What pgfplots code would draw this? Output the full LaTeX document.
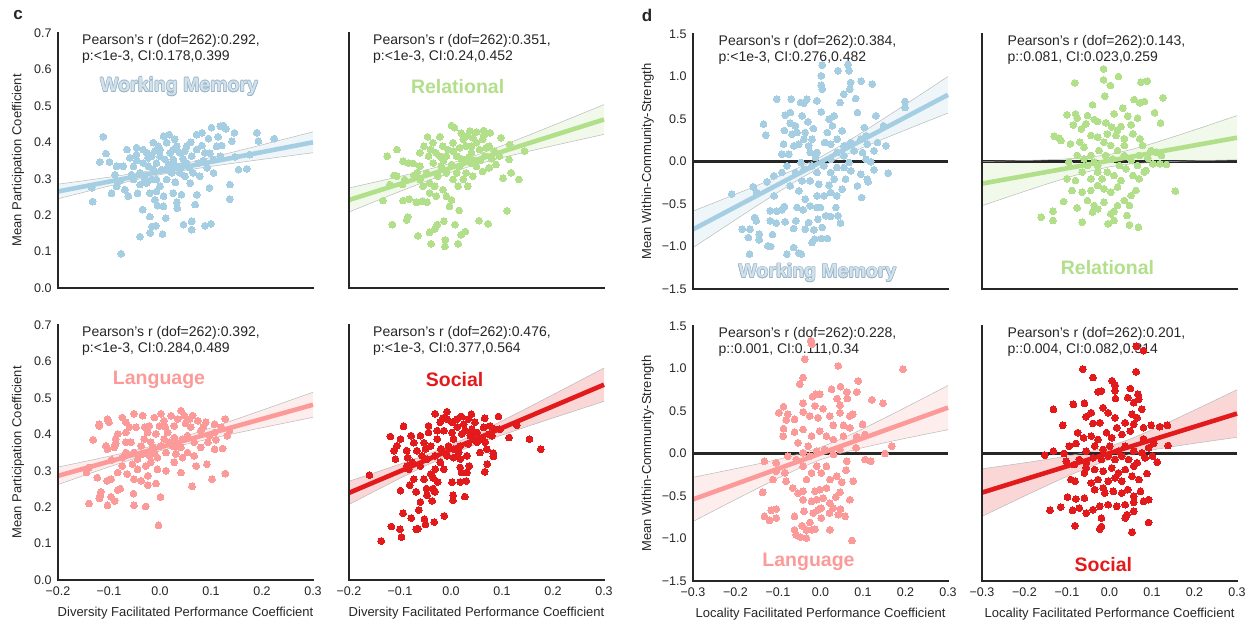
\documentclass[border=0pt]{standalone}
\usepackage{fontspec}
\setmainfont{Liberation Sans}
\usepackage{pgfplots}
\usepackage{pgfplotstable}
\pgfplotsset{compat=1.18}
\usepgfplotslibrary{fillbetween}
\definecolor{wm}{HTML}{A6CEE3}
\definecolor{wmf}{HTML}{CFE2EE}
\definecolor{wmo}{HTML}{9DB4C4}
\definecolor{rel}{HTML}{B2DF8A}
\definecolor{lang}{HTML}{FB9A99}
\definecolor{soc}{HTML}{E31A1C}
\definecolor{txt}{HTML}{262626}

\pgfplotstableread{
x y
-0.076 0.094
-0.132 0.237
-0.134 0.275
-0.111 0.415
-0.118 0.346
-0.106 0.369
-0.099 0.346
-0.085 0.334
-0.095 0.26
-0.088 0.311
-0.069 0.27
-0.062 0.252
-0.065 0.38
-0.046 0.385
-0.044 0.26
-0.034 0.215
-0.039 0.141
-0.020 0.196
-0.019 0.151
-0.016 0.169
-0.008 0.171
0.005 0.148
0.011 0.192
-0.005 0.226
0.007 0.252
0.007 0.417
0.018 0.421
0.026 0.26
0.033 0.235
0.034 0.219
0.042 0.256
0.046 0.174
0.062 0.183
0.062 0.16
0.069 0.229
0.072 0.256
0.088 0.171
0.1 0.176
0.097 0.275
0.072 0.421
0.082 0.426
0.101 0.44
0.114 0.415
0.118 0.444
0.124 0.446
0.129 0.437
0.121 0.391
0.141 0.403
0.146 0.426
0.137 0.284
0.137 0.244
0.154 0.325
0.17 0.327
0.176 0.366
0.19 0.426
0.193 0.403
0.224 0.41
0.147 0.36
0.118 0.362
0.105 0.353
0.088 0.371
0.082 0.391
0.092 0.33
0.078 0.307
0.065 0.316
0.059 0.288
0.049 0.307
0.052 0.343
0.039 0.371
0.029 0.408
0.026 0.353
0.016 0.334
0.013 0.298
0.0 0.279
-0.007 0.298
-0.013 0.325
-0.016 0.362
-0.013 0.399
-0.003 0.389
0.0 0.362
-0.026 0.371
-0.033 0.343
-0.039 0.316
-0.052 0.334
-0.052 0.298
-0.039 0.284
-0.026 0.288
-0.02 0.26
-0.01 0.242
0.007 0.224
0.013 0.325
0.02 0.371
0.033 0.389
0.042 0.334
0.052 0.389
0.062 0.362
0.072 0.38
0.075 0.343
0.105 0.316
0.111 0.389
-0.059 0.357
-0.072 0.334
-0.056 0.311
-0.046 0.366
-0.033 0.38
-0.023 0.357
-0.007 0.343
0.003 0.325
0.01 0.353
0.023 0.316
0.033 0.334
0.039 0.316
0.049 0.376
0.026 0.38
0.0 0.38
-0.01 0.376
0.013 0.399
-0.007 0.265
-0.016 0.298
-0.023 0.334
-0.078 0.294
-0.085 0.279
0.045 0.355
0.058 0.33
0.085 0.35
0.098 0.37
0.03 0.29
-0.045 0.35
-0.03 0.3
0.02 0.34
0.06 0.4
0.095 0.41
}\tA

\pgfplotstableread{
x y
-0.125 0.362
-0.106 0.38
-0.133 0.24
-0.115 0.174
-0.094 0.24
-0.082 0.244
-0.087 0.187
-0.085 0.195
-0.068 0.235
-0.056 0.238
-0.047 0.235
-0.065 0.143
-0.042 0.153
-0.039 0.121
-0.032 0.162
-0.027 0.174
-0.014 0.183
-0.011 0.132
-0.012 0.114
0.008 0.174
0.014 0.121
0.02 0.146
0.028 0.155
0.016 0.213
0.055 0.185
0.073 0.176
0.11 0.212
0.133 0.298
0.102 0.301
0.118 0.316
0.114 0.353
0.144 0.376
0.115 0.394
0.098 0.412
0.077 0.426
0.064 0.432
0.05 0.428
0.037 0.431
0.03 0.417
0.007 0.44
0.001 0.446
-0.022 0.415
-0.046 0.415
-0.053 0.389
-0.061 0.371
-0.074 0.342
-0.084 0.343
-0.094 0.348
-0.112 0.309
-0.106 0.307
-0.091 0.298
-0.073 0.309
-0.061 0.298
-0.055 0.279
-0.042 0.288
-0.048 0.316
-0.035 0.343
-0.029 0.371
-0.035 0.399
-0.016 0.389
-0.009 0.362
-0.019 0.334
-0.026 0.307
-0.032 0.279
-0.042 0.261
-0.016 0.27
-0.009 0.252
0.001 0.242
-0.003 0.224
0.004 0.298
0.011 0.316
0.001 0.339
0.011 0.362
0.017 0.385
0.03 0.389
0.04 0.371
0.05 0.399
0.056 0.38
0.066 0.362
0.075 0.389
0.085 0.376
0.095 0.362
0.088 0.339
0.075 0.33
0.062 0.32
0.05 0.334
0.04 0.343
0.027 0.353
0.017 0.334
0.03 0.316
0.043 0.307
0.024 0.298
0.014 0.279
0.033 0.279
-0.022 0.362
-0.061 0.334
-0.095 0.284
-0.12 0.284
0.004 0.399
0.024 0.408
0.043 0.412
0.062 0.408
0.069 0.385
0.04 0.389
-0.006 0.38
-0.044 0.362
-0.067 0.316
-0.009 0.316
-0.029 0.252
0.02 0.355
0.035 0.36
0.058 0.35
0.08 0.355
0.005 0.375
-0.04 0.38
0.065 0.42
0.02 0.425
0.045 0.35
-0.015 0.35
}\tB

\pgfplotstableread{
x y
-0.003 0.15
0.001 0.228
-0.028 0.202
-0.051 0.205
-0.103 0.205
-0.139 0.21
-0.119 0.224
-0.117 0.231
-0.116 0.242
-0.096 0.228
-0.089 0.217
-0.083 0.247
-0.078 0.251
-0.052 0.237
-0.024 0.26
-0.008 0.265
0.063 0.257
0.102 0.277
0.128 0.292
0.092 0.318
0.071 0.313
0.041 0.295
0.012 0.3
0.028 0.323
-0.005 0.304
-0.024 0.286
-0.037 0.272
-0.044 0.304
-0.051 0.277
-0.064 0.291
-0.074 0.313
-0.083 0.295
-0.096 0.277
-0.104 0.272
-0.123 0.281
-0.144 0.295
-0.139 0.309
-0.103 0.359
-0.106 0.368
-0.09 0.364
-0.131 0.385
-0.119 0.423
-0.103 0.442
-0.1 0.433
-0.119 0.428
-0.087 0.387
-0.083 0.401
-0.074 0.446
-0.067 0.433
-0.051 0.456
-0.034 0.451
-0.047 0.419
-0.067 0.405
-0.057 0.378
-0.067 0.35
-0.074 0.336
-0.051 0.35
-0.044 0.332
-0.037 0.368
-0.031 0.387
-0.024 0.405
-0.021 0.423
-0.011 0.446
0.002 0.456
0.008 0.437
-0.001 0.423
-0.008 0.401
-0.018 0.378
-0.011 0.35
0.002 0.368
-0.005 0.336
-0.018 0.323
-0.028 0.313
0.012 0.35
0.018 0.378
0.015 0.405
0.028 0.423
0.035 0.442
0.041 0.465
0.048 0.451
0.058 0.442
0.064 0.451
0.074 0.437
0.09 0.433
0.107 0.428
0.128 0.442
0.12 0.419
0.132 0.396
0.136 0.41
0.107 0.405
0.094 0.378
0.08 0.364
0.107 0.359
0.123 0.361
0.067 0.378
0.054 0.396
0.044 0.387
0.041 0.364
0.031 0.346
0.044 0.336
0.054 0.35
0.067 0.341
0.025 0.368
0.028 0.391
0.008 0.387
0.08 0.41
0.097 0.396
0.022 0.451
-0.014 0.364
-0.034 0.346
-0.054 0.318
-0.067 0.378
-0.087 0.374
-0.03 0.42
0.01 0.42
0.06 0.42
0.085 0.42
-0.06 0.42
-0.02 0.34
0.03 0.365
0.11 0.385
-0.095 0.33
0.05 0.43
}\tC

\pgfplotstableread{
x y
-0.16 0.288
-0.137 0.107
-0.117 0.147
-0.1 0.139
-0.097 0.118
-0.094 0.183
-0.099 0.245
-0.081 0.26
-0.078 0.17
-0.068 0.139
-0.065 0.141
-0.063 0.192
-0.068 0.242
-0.06 0.214
-0.052 0.167
-0.05 0.153
-0.047 0.233
-0.048 0.251
-0.035 0.251
-0.032 0.242
-0.037 0.217
-0.033 0.159
-0.013 0.176
-0.026 0.269
-0.053 0.277
-0.073 0.277
0.002 0.268
0.004 0.233
0.004 0.219
0.027 0.229
0.018 0.269
0.03 0.272
0.021 0.295
0.036 0.313
0.066 0.297
0.071 0.318
0.083 0.348
0.083 0.339
0.114 0.391
0.154 0.387
0.176 0.359
0.129 0.425
0.093 0.449
0.066 0.444
0.02 0.449
-0.008 0.462
-0.031 0.456
-0.044 0.423
-0.06 0.396
-0.078 0.396
-0.093 0.422
-0.119 0.394
-0.112 0.355
-0.106 0.368
-0.109 0.332
-0.087 0.355
-0.085 0.336
-0.067 0.355
-0.076 0.323
-0.083 0.304
-0.06 0.313
-0.047 0.332
-0.031 0.341
-0.04 0.368
-0.027 0.387
-0.014 0.41
-0.021 0.433
0.002 0.433
0.012 0.442
0.025 0.428
0.034 0.442
0.047 0.433
0.064 0.419
0.051 0.405
0.038 0.396
0.021 0.401
0.005 0.387
-0.005 0.368
0.005 0.359
0.018 0.368
0.034 0.373
0.051 0.378
0.067 0.378
0.08 0.396
0.086 0.414
0.077 0.423
0.031 0.341
0.018 0.332
0.005 0.336
-0.008 0.341
-0.021 0.323
-0.014 0.304
-0.031 0.304
-0.04 0.291
0.018 0.309
0.031 0.295
0.057 0.35
0.07 0.359
0.096 0.414
-0.053 0.377
-0.073 0.377
-0.099 0.387
-0.086 0.313
-0.008 0.442
0.041 0.414
-0.027 0.41
-0.044 0.405
-0.057 0.341
0.044 0.387
0.002 0.405
0.012 0.42
0.028 0.41
-0.02 0.36
0.015 0.35
0.06 0.39
-0.05 0.36
0.04 0.455
-0.015 0.445
0.075 0.4
-0.035 0.28
}\tD

\pgfplotstableread{
x y
-0.209 -0.384
-0.158 -0.298
-0.15 -0.365
-0.126 -0.239
-0.11 -0.169
-0.109 -0.404
-0.134 0.439
-0.129 0.31
-0.103 0.733
-0.083 0.545
-0.071 0.576
-0.069 0.733
-0.184 -0.796
-0.17 -0.894
-0.167 -1.09
-0.166 -0.796
-0.155 -0.659
-0.151 -0.698
-0.144 -0.855
-0.144 -0.922
-0.124 -0.992
-0.117 -1.0
-0.113 -0.859
-0.118 -0.58
-0.118 -0.698
-0.103 -0.584
-0.091 -0.569
-0.085 -0.529
-0.104 -0.725
-0.083 -0.71
-0.079 -1.09
-0.063 -1.012
-0.051 -1.078
-0.045 -1.09
-0.063 -0.788
-0.058 -0.698
-0.051 -0.345
-0.041 -0.569
-0.036 -0.796
-0.028 -0.718
-0.02 -0.953
-0.016 -0.804
-0.014 -0.914
-0.006 -0.678
-0.008 -0.541
0.002 -0.906
0.016 -0.906
0.004 -0.776
0.012 -0.639
0.024 -0.647
0.036 -0.541
0.041 -0.639
0.047 -0.725
0.02 -0.278
0.024 -0.365
0.008 -0.404
-0.004 -0.267
-0.024 -0.227
-0.043 -0.227
-0.046 -0.012
-0.039 -0.09
-0.059 -0.129
-0.079 -0.051
-0.091 -0.129
-0.091 0.086
-0.087 0.204
-0.067 0.322
-0.071 0.451
-0.059 0.42
-0.055 0.341
-0.063 0.184
-0.051 0.204
-0.039 0.263
-0.036 0.341
-0.043 0.537
-0.032 0.733
-0.047 0.694
-0.039 0.686
-0.028 0.184
-0.02 0.263
-0.024 0.106
-0.012 0.047
-0.008 0.106
-0.009 0.714
0.002 0.584
0.004 1.133
0.002 1.008
0.002 0.898
0.004 0.851
0.02 0.498
0.032 0.537
0.028 0.42
0.01 0.224
0.016 0.341
0.024 0.204
0.039 0.263
0.051 0.361
0.046 0.694
0.041 1.067
0.065 1.141
0.067 1.067
0.071 0.929
0.069 0.851
0.055 0.792
0.083 0.741
0.096 0.945
0.122 0.91
0.087 0.576
0.103 0.4
0.107 0.302
0.13 0.537
0.148 0.42
0.154 0.184
0.199 0.706
0.199 0.635
0.159 -0.137
0.126 -0.098
0.11 -0.208
0.112 -0.239
0.097 -0.424
0.087 -0.286
0.095 -0.149
0.071 -0.11
0.059 -0.208
0.051 -0.325
0.038 -0.404
0.067 -0.012
0.055 0.067
0.079 0.125
0.099 0.106
0.107 0.027
0.118 -0.004
0.126 0.125
0.134 0.224
0.11 0.204
0.095 0.263
0.071 0.224
0.055 0.184
0.039 0.106
0.024 0.027
0.008 -0.051
-0.008 -0.129
-0.02 -0.051
0.024 -0.129
0.039 -0.071
0.032 -0.208
0.055 -0.071
-0.036 -0.443
-0.024 -0.522
-0.008 -0.404
0.0 -0.541
-0.071 -0.286
-0.055 -0.541
-0.03 0.467
-0.017 0.388
-0.085 0.365
-0.075 0.086
}\tE

\pgfplotstableread{
x y
-0.014 1.09
-0.014 0.961
0.021 1.0
0.002 0.894
-0.011 0.769
-0.082 0.925
0.074 0.933
0.089 0.945
0.058 0.729
0.071 0.69
0.082 0.706
0.126 0.749
-0.04 0.667
0.031 0.627
-0.1 0.549
-0.08 0.561
-0.076 0.51
-0.052 0.541
-0.036 0.494
0.011 0.561
0.043 0.533
0.066 0.51
0.106 0.573
0.12 0.451
-0.085 0.431
-0.056 0.443
-0.028 0.471
-0.009 0.455
0.005 0.404
0.027 0.412
0.051 0.431
-0.13 0.298
-0.119 0.275
-0.114 0.247
-0.092 0.208
-0.066 0.384
-0.044 0.306
-0.07 0.227
-0.06 0.169
-0.028 0.286
-0.005 0.325
0.015 0.306
0.035 0.267
0.055 0.325
0.071 0.267
0.078 0.188
0.098 0.129
0.11 0.11
0.09 0.039
0.122 0.071
0.118 -0.027
0.134 -0.035
0.102 -0.027
0.086 -0.106
0.066 -0.047
0.051 0.012
0.035 0.071
0.019 0.129
0.003 0.188
-0.013 0.227
-0.025 0.129
-0.009 0.071
0.007 0.031
0.023 -0.047
0.039 -0.086
0.055 -0.165
0.07 -0.204
0.082 -0.125
0.155 -0.349
-0.044 0.071
-0.06 0.031
-0.076 0.071
-0.096 -0.008
-0.1 -0.204
-0.08 -0.224
-0.064 -0.125
-0.052 -0.047
-0.036 -0.008
-0.028 -0.125
-0.044 -0.204
-0.017 -0.204
-0.005 -0.125
0.011 -0.165
0.027 -0.224
0.019 -0.302
0.003 -0.361
-0.013 -0.322
-0.028 -0.282
-0.044 -0.341
-0.064 -0.361
-0.088 -0.341
-0.108 -0.471
-0.076 -0.545
-0.052 -0.459
-0.036 -0.518
-0.04 -0.596
-0.028 -0.557
-0.013 -0.478
0.003 -0.616
0.019 -0.518
0.035 -0.459
0.051 -0.4
0.047 -0.518
0.062 -0.341
0.041 -0.635
0.011 -0.588
-0.003 -0.733
0.011 -0.694
0.047 -0.745
0.068 -0.773
-0.064 -0.714
-0.133 -0.584
-0.133 -0.694
-0.161 -0.655
0.07 0.071
-0.028 -0.047
0.035 0.188
0.019 0.365
}\tF

\pgfplotstableread{
x y
-0.023 1.327
-0.02 1.287
-0.037 1.11
0.042 1.031
0.194 0.992
-0.041 0.894
-0.049 0.815
0.026 0.756
0.047 0.787
0.062 0.724
0.089 0.854
0.085 0.724
-0.019 0.669
-0.011 0.697
-0.002 0.697
0.039 0.646
0.063 0.646
0.121 0.63
0.147 0.591
-0.041 0.591
-0.013 0.559
0.006 0.528
0.046 0.567
-0.087 0.551
-0.098 0.48
-0.077 0.461
-0.081 0.394
-0.061 0.402
-0.041 0.488
-0.025 0.441
-0.006 0.421
0.022 0.441
0.046 0.48
0.069 0.441
0.076 0.461
0.03 0.331
0.054 0.331
0.099 0.343
0.069 0.303
-0.087 0.291
-0.088 0.205
-0.061 0.252
-0.041 0.283
-0.021 0.205
-0.002 0.264
0.014 0.205
0.03 0.165
0.054 0.205
0.085 0.197
0.105 0.224
0.084 0.067
0.168 0.087
0.152 0.0
0.105 -0.071
0.118 -0.091
0.077 -0.327
0.062 -0.091
0.06 -0.197
0.05 -0.339
0.046 -0.457
0.069 -0.543
0.036 -0.512
0.022 -0.583
0.03 -0.642
0.021 -0.701
0.042 -0.72
0.058 -0.74
0.047 -0.654
0.022 -0.898
0.074 -1.024
0.002 -0.76
-0.006 -0.661
-0.009 -0.543
-0.013 -0.445
-0.002 -0.425
0.006 -0.524
0.014 -0.406
0.022 -0.307
0.038 -0.268
0.014 -0.15
0.002 -0.228
-0.009 -0.15
-0.021 -0.228
-0.033 -0.307
-0.041 -0.445
-0.053 -0.465
-0.065 -0.406
-0.081 -0.327
-0.084 -0.228
-0.104 -0.209
-0.112 -0.307
-0.132 -0.091
-0.104 -0.11
-0.077 -0.031
-0.057 -0.071
-0.041 0.008
-0.025 -0.031
-0.009 0.028
0.01 0.047
0.03 -0.012
0.046 0.047
-0.041 -0.15
-0.029 0.087
-0.053 0.126
-0.136 -0.457
-0.132 -0.74
-0.12 -0.787
-0.116 -0.669
-0.104 -0.654
-0.104 -0.76
-0.061 -0.74
-0.039 -0.681
-0.061 -0.898
-0.057 -0.957
-0.047 -0.984
-0.033 -0.996
-0.043 -0.85
-0.025 -0.811
-0.033 -0.898
-0.021 -0.898
-0.013 -0.89
-0.017 -0.701
-0.021 -0.563
-0.041 -0.543
0.002 -0.642
}\tG

\pgfplotstableread{
x y
0.063 1.26
0.08 1.209
-0.063 0.992
0.063 0.961
-0.039 0.894
0.006 0.854
0.013 0.803
-0.027 0.724
-0.019 0.736
0.013 0.736
0.049 0.764
0.043 0.657
0.067 0.697
0.069 0.638
0.014 0.646
-0.132 0.52
-0.085 0.579
-0.059 0.591
-0.015 0.539
0.057 0.598
0.076 0.52
-0.043 0.48
-0.055 0.433
-0.003 0.48
0.013 0.421
0.053 0.461
0.065 0.421
-0.11 0.331
-0.039 0.354
-0.023 0.362
0.017 0.303
0.037 0.362
0.057 0.343
0.08 0.303
0.098 0.331
0.118 0.315
0.136 0.331
-0.075 0.244
-0.061 0.185
-0.043 0.205
-0.027 0.165
-0.007 0.244
0.005 0.185
0.029 0.224
0.049 0.264
0.08 0.173
0.104 0.118
0.138 0.094
-0.079 0.118
-0.095 0.087
-0.132 0.028
-0.152 -0.02
-0.107 0.0
-0.102 -0.091
-0.055 0.028
-0.035 0.087
-0.015 0.047
0.001 0.087
0.021 0.028
0.037 0.087
0.057 0.028
0.076 0.008
0.092 0.067
0.101 -0.031
0.112 -0.102
0.084 -0.051
0.065 -0.11
0.045 -0.071
0.029 -0.031
0.013 -0.071
-0.003 -0.031
-0.019 -0.071
-0.039 -0.051
-0.055 -0.11
-0.071 -0.071
-0.083 -0.13
-0.091 -0.307
-0.081 -0.327
-0.059 -0.228
-0.055 -0.169
-0.035 -0.189
-0.015 -0.209
0.005 -0.169
0.021 -0.228
0.037 -0.189
0.057 -0.15
0.053 -0.268
0.069 -0.307
0.088 -0.236
0.029 -0.327
0.013 -0.287
-0.003 -0.327
-0.027 -0.307
-0.043 -0.346
-0.035 -0.425
-0.015 -0.406
-0.011 -0.465
0.009 -0.445
0.029 -0.465
0.043 -0.425
0.057 -0.504
0.073 -0.445
0.08 -0.563
0.092 -0.543
0.057 -0.575
0.037 -0.602
0.017 -0.622
-0.003 -0.602
-0.023 -0.622
-0.039 -0.661
-0.055 -0.701
-0.071 -0.642
-0.087 -0.669
-0.099 -0.512
-0.079 -0.535
-0.059 -0.524
-0.115 -0.63
-0.14 -0.669
-0.081 -0.85
-0.019 -0.76
-0.023 -0.89
-0.019 -0.858
0.037 -0.76
0.057 -0.681
0.092 -0.811
0.053 -0.925
0.041 -0.72
}\tH

\tikzset{
  anno/.style={anchor=north west, align=left, inner sep=0pt, text=txt, font=\fontsize{14}{15.5}\selectfont},
  catlab/.style={anchor=center, inner sep=0pt, font=\bfseries\fontsize{19.5}{20}\selectfont},
  alab/.style={anchor=center, inner sep=0pt, text=txt, font=\fontsize{13}{14}\selectfont},
}
\pgfplotsset{
  panel/.style={
    scale only axis, width=255pt, height=255pt,
    axis lines*=left,
    axis line style={line width=2.6pt, color=txt, line cap=rect},
    major tick length=0pt, enlargelimits=false, clip=false, axis on top,
    tick label style={font=\fontsize{12.5}{13}\selectfont, text=txt},
    yticklabel style={xshift=-3pt}, xticklabel style={yshift=-3pt},
  },
  cpanel/.style={panel, xmin=-0.2, xmax=0.3, ymin=0, ymax=0.7,
    xtick={-0.2,-0.1,0,0.1,0.2,0.3}, xticklabels={−0.2,−0.1,0.0,0.1,0.2,0.3},
    ytick={0,0.1,0.2,0.3,0.4,0.5,0.6,0.7}, yticklabels={0.0,0.1,0.2,0.3,0.4,0.5,0.6,0.7}},
  dpanel/.style={panel, xmin=-0.3, xmax=0.3, ymin=-1.5, ymax=1.5,
    xtick={-0.3,-0.2,-0.1,0,0.1,0.2,0.3}, xticklabels={−0.3,−0.2,−0.1,0.0,0.1,0.2,0.3},
    ytick={-1.5,-1,-0.5,0,0.5,1,1.5}, yticklabels={−1.5,−1.0,−0.5,0.0,0.5,1.0,1.5}},
  dots/.style={only marks, mark=*, mark size=3.4pt, color=#1, mark options={line width=0pt}},
  band/.style={draw=none, fill=#1, fill opacity=0.18},
  bedge/.style={gray!55, line width=0.5pt},
  reg/.style={#1, line width=4.6pt},
}
\newcommand{\wmlabel}[2]{%
  \node[catlab, text=wmo, xshift=0.6pt] at (rel axis cs:#1,#2) {Working Memory};
  \node[catlab, text=wmo, xshift=-0.6pt] at (rel axis cs:#1,#2) {Working Memory};
  \node[catlab, text=wmo, yshift=0.6pt] at (rel axis cs:#1,#2) {Working Memory};
  \node[catlab, text=wmo, yshift=-0.6pt] at (rel axis cs:#1,#2) {Working Memory};
  \node[catlab, text=wmo, xshift=0.45pt, yshift=0.45pt] at (rel axis cs:#1,#2) {Working Memory};
  \node[catlab, text=wmo, xshift=-0.45pt, yshift=0.45pt] at (rel axis cs:#1,#2) {Working Memory};
  \node[catlab, text=wmo, xshift=0.45pt, yshift=-0.45pt] at (rel axis cs:#1,#2) {Working Memory};
  \node[catlab, text=wmo, xshift=-0.45pt, yshift=-0.45pt] at (rel axis cs:#1,#2) {Working Memory};
  \node[catlab, text=wmf] at (rel axis cs:#1,#2) {Working Memory};
}

\begin{document}
\begin{tikzpicture}
\node[text=txt, font=\bfseries\fontsize{17}{17}\selectfont] at (18pt,606pt) {c};
\node[text=txt, font=\bfseries\fontsize{17}{17}\selectfont] at (647pt,606pt) {d};

% ---------- c: Working Memory
\begin{axis}[cpanel, at={(58pt,333pt)}, xtick=\empty]
\addplot[dots=wm] table {\tA};
\addplot[name path=u1, bedge] coordinates {(-0.2,0.285) (-0.15,0.2944) (-0.1,0.3042) (-0.05,0.3147) (0,0.327) (0.05,0.3417) (0.1,0.3582) (0.15,0.3754) (0.2,0.393) (0.25,0.4108) (0.3,0.4286)};
\addplot[name path=l1, bedge] coordinates {(-0.2,0.245) (-0.15,0.2626) (-0.1,0.2798) (-0.05,0.2963) (0,0.311) (0.05,0.3233) (0.1,0.3338) (0.15,0.3436) (0.2,0.353) (0.25,0.3622) (0.3,0.3714)};
\addplot[band=wm] fill between[of=u1 and l1];
\addplot[reg=wm] coordinates {(-0.2,0.265) (0.3,0.40)};
\node[anno] at (rel axis cs:0.094,0.995) {Pearson's r (dof=262):0.292,\\p:<1e-3, CI:0.178,0.399};
\wmlabel{0.475}{0.79}
\node[alab, rotate=90] at (rel axis cs:-0.157,0.5) {Mean Participation Coefficient};
\end{axis}

% ---------- c: Relational
\begin{axis}[cpanel, at={(349pt,333pt)}, xtick=\empty, ytick=\empty]
\addplot[dots=rel] table {\tB};
\addplot[name path=u2, bedge] coordinates {(-0.2,0.2746) (-0.15,0.2903) (-0.1,0.3064) (-0.05,0.3234) (0,0.3423) (0.05,0.3648) (0.1,0.3906) (0.15,0.4181) (0.2,0.4463) (0.25,0.4748) (0.3,0.5035)};
\addplot[name path=l2, bedge] coordinates {(-0.2,0.2086) (-0.15,0.2371) (-0.1,0.2652) (-0.05,0.2924) (0,0.3177) (0.05,0.3394) (0.1,0.3578) (0.15,0.3745) (0.2,0.3905) (0.25,0.4062) (0.3,0.4217)};
\addplot[band=rel] fill between[of=u2 and l2];
\addplot[reg=rel] coordinates {(-0.2,0.2416) (0.3,0.4626)};
\node[anno] at (rel axis cs:0.094,0.995) {Pearson's r (dof=262):0.351,\\p:<1e-3, CI:0.24,0.452};
\node[catlab, text=rel] at (rel axis cs:0.426,0.79) {Relational};
\end{axis}

% ---------- c: Language
\begin{axis}[cpanel, at={(58pt,41pt)}]
\addplot[dots=lang] table {\tC};
\addplot[name path=u3, bedge] coordinates {(-0.2,0.31) (-0.15,0.3246) (-0.1,0.3396) (-0.05,0.3555) (0,0.3736) (0.05,0.3945) (0.1,0.4176) (0.15,0.4416) (0.2,0.466) (0.25,0.4907) (0.3,0.5153)};
\addplot[name path=l3, bedge] coordinates {(-0.2,0.262) (-0.15,0.2864) (-0.1,0.3104) (-0.05,0.3335) (0,0.3544) (0.05,0.3725) (0.1,0.3884) (0.15,0.4034) (0.2,0.418) (0.25,0.4323) (0.3,0.4467)};
\addplot[band=lang] fill between[of=u3 and l3];
\addplot[reg=lang] coordinates {(-0.2,0.286) (0.3,0.481)};
\node[anno] at (rel axis cs:0.094,0.995) {Pearson's r (dof=262):0.392,\\p:<1e-3, CI:0.284,0.489};
\node[catlab, text=lang] at (rel axis cs:0.396,0.784) {Language};
\node[alab, rotate=90] at (rel axis cs:-0.157,0.5) {Mean Participation Coefficient};
\node[alab] at (rel axis cs:0.5,-0.129) {Diversity Facilitated Performance Coefficient};
\end{axis}

% ---------- c: Social
\begin{axis}[cpanel, at={(349pt,41pt)}, ytick=\empty]
\addplot[dots=soc] table {\tD};
\addplot[name path=u4, bedge] coordinates {(-0.2,0.2712) (-0.15,0.2943) (-0.1,0.3181) (-0.05,0.343) (0,0.3708) (0.05,0.4024) (0.1,0.4369) (0.15,0.4725) (0.2,0.5088) (0.25,0.5454) (0.3,0.582)};
\addplot[name path=l4, bedge] coordinates {(-0.2,0.2072) (-0.15,0.2435) (-0.1,0.2791) (-0.05,0.3136) (0,0.3452) (0.05,0.373) (0.1,0.3979) (0.15,0.4217) (0.2,0.4448) (0.25,0.4676) (0.3,0.4904)};
\addplot[band=soc] fill between[of=u4 and l4];
\addplot[reg=soc] coordinates {(-0.2,0.2392) (0.3,0.5362)};
\node[anno] at (rel axis cs:0.094,0.995) {Pearson's r (dof=262):0.476,\\p:<1e-3, CI:0.377,0.564};
\node[catlab, text=soc] at (rel axis cs:0.414,0.788) {Social};
\node[alab] at (rel axis cs:0.5,-0.129) {Diversity Facilitated Performance Coefficient};
\end{axis}

% ---------- d: Working Memory
\begin{axis}[dpanel, at={(693pt,332pt)}, xtick=\empty]
\addplot[txt, line width=2.6pt] coordinates {(-0.3,0) (0.3,0)};
\addplot[dots=wm] table {\tE};
\addplot[name path=u5, bedge] coordinates {(-0.3,-0.584) (-0.25,-0.485) (-0.2,-0.385) (-0.15,-0.284) (-0.1,-0.180) (-0.05,-0.070) (0,0.053) (0.05,0.194) (0.1,0.348) (0.15,0.508) (0.2,0.671) (0.25,0.835) (0.3,1.0)};
\addplot[name path=l5, bedge] coordinates {(-0.3,-1.014) (-0.25,-0.849) (-0.2,-0.685) (-0.15,-0.522) (-0.1,-0.362) (-0.05,-0.208) (0,-0.067) (0.05,0.056) (0.1,0.166) (0.15,0.270) (0.2,0.371) (0.25,0.471) (0.3,0.570)};
\addplot[band=wm] fill between[of=u5 and l5];
\addplot[reg=wm] coordinates {(-0.3,-0.799) (0.3,0.785)};
\node[anno] at (rel axis cs:0.1,0.995) {Pearson's r (dof=262):0.384,\\p:<1e-3, CI:0.276,0.482};
\wmlabel{0.488}{0.063}
\node[alab, rotate=90] at (rel axis cs:-0.177,0.5) {Mean Within-Community-Strength};
\end{axis}

% ---------- d: Relational
\begin{axis}[dpanel, at={(982pt,332pt)}, xtick=\empty, ytick=\empty]
\addplot[txt, line width=2.6pt] coordinates {(-0.3,0) (0.3,0)};
\addplot[dots=rel] table {\tF};
\addplot[name path=u6, bedge] coordinates {(-0.3,0.0) (-0.25,0.0052) (-0.2,0.0115) (-0.15,0.0193) (-0.1,0.0305) (-0.05,0.0487) (0,0.0825) (0.05,0.1387) (0.1,0.2105) (0.15,0.2893) (0.2,0.3715) (0.25,0.4552) (0.3,0.54)};
\addplot[name path=l6, bedge] coordinates {(-0.3,-0.52) (-0.25,-0.4352) (-0.2,-0.3515) (-0.15,-0.2693) (-0.1,-0.1905) (-0.05,-0.1187) (0,-0.0625) (0.05,-0.0287) (0.1,-0.0105) (0.15,0.0007) (0.2,0.0085) (0.25,0.0148) (0.3,0.02)};
\addplot[band=rel] fill between[of=u6 and l6];
\addplot[reg=rel] coordinates {(-0.3,-0.26) (0.3,0.28)};
\node[anno] at (rel axis cs:0.1,0.995) {Pearson's r (dof=262):0.143,\\p::0.081, CI:0.023,0.259};
\node[catlab, text=rel] at (rel axis cs:0.492,0.086) {Relational};
\end{axis}

% ---------- d: Language
\begin{axis}[dpanel, at={(693pt,40pt)}]
\addplot[txt, line width=2.6pt] coordinates {(-0.3,0) (0.3,0)};
\addplot[dots=lang] table {\tG};
\addplot[name path=u7, bedge] coordinates {(-0.3,-0.28) (-0.25,-0.2298) (-0.2,-0.1785) (-0.15,-0.1257) (-0.1,-0.0695) (-0.05,-0.0063) (0,0.0725) (0.05,0.1737) (0.1,0.2905) (0.15,0.4143) (0.2,0.5415) (0.25,0.6702) (0.3,0.80)};
\addplot[name path=l7, bedge] coordinates {(-0.3,-0.80) (-0.25,-0.6702) (-0.2,-0.5415) (-0.15,-0.4143) (-0.1,-0.2905) (-0.05,-0.1737) (0,-0.0725) (0.05,0.0063) (0.1,0.0695) (0.15,0.1257) (0.2,0.1785) (0.25,0.2298) (0.3,0.28)};
\addplot[band=lang] fill between[of=u7 and l7];
\addplot[reg=lang] coordinates {(-0.3,-0.54) (0.3,0.54)};
\node[anno] at (rel axis cs:0.1,0.995) {Pearson's r (dof=262):0.228,\\p::0.001, CI:0.111,0.34};
\node[catlab, text=lang] at (rel axis cs:0.453,0.075) {Language};
\node[alab, rotate=90] at (rel axis cs:-0.177,0.5) {Mean Within-Community-Strength};
\node[alab] at (rel axis cs:0.5,-0.129) {Locality Facilitated Performance Coefficient};
\end{axis}

% ---------- d: Social
\begin{axis}[dpanel, at={(982pt,40pt)}, ytick=\empty]
\addplot[txt, line width=2.6pt] coordinates {(-0.3,0) (0.3,0)};
\addplot[dots=soc] table {\tH};
\addplot[name path=u8, bedge] coordinates {(-0.3,-0.18) (-0.25,-0.1453) (-0.2,-0.1096) (-0.15,-0.0721) (-0.1,-0.031) (-0.05,0.0177) (0,0.0831) (0.05,0.1727) (0.1,0.279) (0.15,0.3929) (0.2,0.5104) (0.25,0.6297) (0.3,0.75)};
\addplot[name path=l8, bedge] coordinates {(-0.3,-0.74) (-0.25,-0.6197) (-0.2,-0.5004) (-0.15,-0.3829) (-0.1,-0.269) (-0.05,-0.1627) (0,-0.0731) (0.05,-0.0077) (0.1,0.041) (0.15,0.0821) (0.2,0.1196) (0.25,0.1553) (0.3,0.19)};
\addplot[band=soc] fill between[of=u8 and l8];
\addplot[reg=soc] coordinates {(-0.3,-0.46) (0.3,0.47)};
\node[anno] at (rel axis cs:0.1,0.995) {Pearson's r (dof=262):0.201,\\p::0.004, CI:0.082,0.314};
\node[catlab, text=soc] at (rel axis cs:0.476,0.063) {Social};
\node[alab] at (rel axis cs:0.5,-0.129) {Locality Facilitated Performance Coefficient};
\end{axis}
\pgfresetboundingbox
\path[use as bounding box] (0pt,0pt) rectangle (1255pt,621pt);
\end{tikzpicture}
\end{document}
